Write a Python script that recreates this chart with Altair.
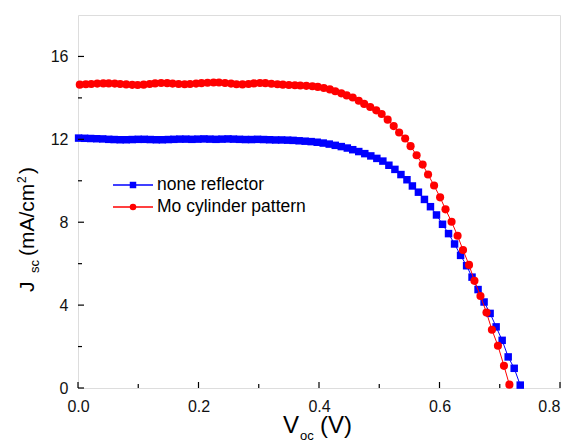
import altair as alt
import pandas as pd

# ---------------- data ----------------
series_names = ["none reflector", "Mo cylinder pattern"]
series_colors = ["#0000FF", "#FF0000"]
series_shapes = ["square", "circle"]

blue_v = [0.001, 0.011, 0.021, 0.031, 0.041, 0.051, 0.060, 0.070, 0.080, 0.090,
          0.100, 0.110, 0.120, 0.130, 0.140, 0.150, 0.159, 0.169, 0.179, 0.189,
          0.199, 0.209, 0.219, 0.229, 0.239, 0.249, 0.258, 0.268, 0.278, 0.288,
          0.298, 0.308, 0.318, 0.328, 0.338, 0.348, 0.357, 0.367, 0.377, 0.387,
          0.397, 0.407, 0.417, 0.427, 0.437, 0.447, 0.456, 0.466, 0.476, 0.486,
          0.496, 0.506, 0.516, 0.526, 0.536, 0.546, 0.555, 0.565, 0.575, 0.585,
          0.595, 0.605, 0.615, 0.625, 0.635, 0.645, 0.654, 0.664, 0.674, 0.684,
          0.694, 0.704, 0.714, 0.724, 0.734]
blue_j = [12.06, 12.05, 12.04, 12.03, 12.02, 12.00, 11.99, 11.98, 11.98, 11.99,
          12.00, 12.00, 11.99, 11.98, 11.98, 11.99, 12.00, 12.01, 12.01, 12.00,
          12.01, 12.02, 12.01, 12.00, 12.01, 12.02, 12.01, 12.00, 11.99, 11.99,
          12.00, 11.99, 11.98, 11.97, 11.97, 11.96, 11.95, 11.93, 11.91, 11.89,
          11.86, 11.82, 11.77, 11.71, 11.65, 11.58, 11.50, 11.41, 11.31, 11.20,
          11.08, 10.95, 10.75, 10.55, 10.30, 10.05, 9.75, 9.45, 9.10, 8.75,
          8.35, 7.90, 7.45, 6.95, 6.40, 5.90, 5.35, 4.75, 4.15, 3.60,
          2.95, 2.30, 1.50, 0.95, 0.14]

red_v = [0.003, 0.013, 0.022, 0.032, 0.042, 0.051, 0.061, 0.070, 0.080, 0.090,
         0.099, 0.109, 0.119, 0.128, 0.138, 0.148, 0.157, 0.167, 0.177, 0.186,
         0.196, 0.205, 0.215, 0.225, 0.234, 0.244, 0.254, 0.263, 0.273, 0.283,
         0.292, 0.302, 0.311, 0.321, 0.331, 0.340, 0.350, 0.360, 0.369, 0.379,
         0.389, 0.398, 0.408, 0.418, 0.427, 0.437, 0.446, 0.456, 0.466, 0.475,
         0.485, 0.495, 0.504, 0.514, 0.524, 0.533, 0.543, 0.552, 0.562, 0.572,
         0.581, 0.591, 0.601, 0.610, 0.620, 0.630, 0.639, 0.649, 0.658, 0.668,
         0.678, 0.687, 0.697, 0.707, 0.716]
red_j = [14.64, 14.66, 14.67, 14.69, 14.70, 14.70, 14.69, 14.67, 14.65, 14.63,
         14.62, 14.64, 14.67, 14.70, 14.72, 14.71, 14.69, 14.67, 14.66, 14.67,
         14.69, 14.71, 14.73, 14.74, 14.74, 14.72, 14.69, 14.66, 14.65, 14.67,
         14.70, 14.72, 14.71, 14.68, 14.66, 14.64, 14.62, 14.61, 14.60, 14.58,
         14.56, 14.53, 14.48, 14.41, 14.32, 14.22, 14.12, 14.02, 13.86, 13.71,
         13.56, 13.40, 13.22, 12.95, 12.64, 12.33, 12.04, 11.67, 11.23, 10.78,
         10.30, 9.77, 9.20, 8.62, 8.02, 7.35, 6.66, 5.94, 5.17, 4.44,
         3.64, 2.81, 2.04, 1.07, 0.16]

x_major = [0.0, 0.2, 0.4, 0.6, 0.8]
x_minor = [0.1, 0.3, 0.5, 0.7]
y_major = [0, 4, 8, 12, 16]
y_minor = [2, 6, 10, 14]

# ---------------- layout constants ----------------
W, H = 482, 373
FONT = "Liberation Sans"

x_scale = alt.Scale(domain=[0, 0.8], nice=False, zero=False)
y_scale = alt.Scale(domain=[0, 18], nice=False, zero=False)
x_axis = alt.Axis(values=x_major, format=".1f", title=None, ticks=False, tickSize=0,
                  domain=False, grid=False, labelFont=FONT, labelFontSize=16,
                  labelColor="#111111", labelPadding=10, labelFlush=False,
                  labelAlign=alt.condition("datum.value >= 0.79", alt.value("right"),
                                           alt.value("center")))
y_axis = alt.Axis(values=y_major, format="d", title=None, ticks=False, tickSize=0,
                  domain=False, grid=False, labelFont=FONT, labelFontSize=16,
                  labelColor="#111111", labelPadding=10)


def xenc(f):
    return alt.X(f"{f}:Q", scale=x_scale, axis=x_axis)


def yenc(f):
    return alt.Y(f"{f}:Q", scale=y_scale, axis=y_axis)


layers = []
all_series = [(blue_v, blue_j), (red_v, red_j)]
for (vs, js), name, col, shp in zip(all_series, series_names, series_colors, series_shapes):
    d = pd.DataFrame({"V": vs, "J": js, "series": name})
    base = alt.Chart(d)
    layers.append(base.mark_line(color=col, strokeWidth=1).encode(x=xenc("V"), y=yenc("J")))
    layers.append(base.mark_point(shape=shp, filled=True, color=col, opacity=1,
                                  size=56 if shp == "square" else 66, strokeWidth=0)
                  .encode(x=xenc("V"), y=yenc("J")))

# inward ticks drawn through the scales
for vals, ln in ((x_major, 6), (x_minor, 4)):
    layers.append(alt.Chart(pd.DataFrame({"t": vals})).mark_rule(color="black", strokeWidth=1.2)
                  .encode(x=xenc("t"), y=alt.value(H), y2=alt.value(H - ln)))
for vals, ln in ((y_major, 6), (y_minor, 4)):
    layers.append(alt.Chart(pd.DataFrame({"t": vals})).mark_rule(color="black", strokeWidth=1.2)
                  .encode(y=yenc("t"), x=alt.value(0), x2=alt.value(ln)))


def txt(s, x, y, size, angle=0):
    kw = dict(align="left", baseline="alphabetic", font=FONT, fontSize=size, color="black")
    if angle:
        kw["angle"] = angle
    return (alt.Chart(pd.DataFrame({"s": [s]})).mark_text(**kw)
            .encode(text="s:N", x=alt.value(x), y=alt.value(y)))


# axis titles with sub/superscripts
layers += [
    txt("V", 205, 418, 24),
    txt("oc", 222, 425, 13),
    txt("(V)", 242, 418, 24),
    txt("J", -44, 277, 21, 270),
    txt("sc", -39, 258, 13, 270),
    txt("(mA/cm", -44, 241, 21, 270),
    txt("2", -52, 168, 12, 270),
    txt(")", -44, 159, 21, 270),
]

# legend
leg_rows = [170, 192]
for name, col, shp, yy in zip(series_names, series_colors, series_shapes, leg_rows):
    ld = pd.DataFrame({"s": [name]})
    layers.append(alt.Chart(ld).mark_rule(color=col, strokeWidth=1.5)
                  .encode(x=alt.value(35), x2=alt.value(75), y=alt.value(yy)))
    layers.append(alt.Chart(ld).mark_point(shape=shp, filled=True, color=col, opacity=1,
                                           size=42, strokeWidth=0)
                  .encode(x=alt.value(55), y=alt.value(yy)))
    layers.append(alt.Chart(ld).mark_text(align="left", baseline="alphabetic", font=FONT,
                                          fontSize=17.5, color="black")
                  .encode(text="s:N", x=alt.value(79), y=alt.value(yy + 5)))

chart = (alt.layer(*layers)
         .properties(width=W, height=H,
                     autosize=alt.AutoSizeParams(type="none"),
                     padding={"left": 70, "top": 7, "right": 3, "bottom": 55})
         .configure_view(stroke="black", strokeWidth=1.5)
         .configure(background="white"))

chart.save("out.html", embed_options={"renderer": "svg", "actions": False})
